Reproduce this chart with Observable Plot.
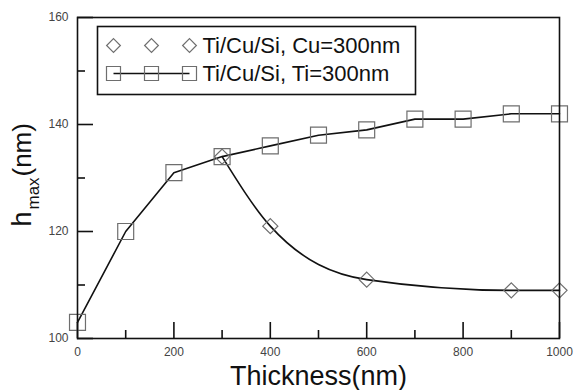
<!DOCTYPE html>
<html>
<head>
<meta charset="utf-8">
<script src="https://cdn.jsdelivr.net/npm/d3@7"></script>
<script src="https://cdn.jsdelivr.net/npm/@observablehq/plot@0.6"></script>
<style>
  body { margin: 0; background: #fff; }
  #chart svg { font-family: "Liberation Sans", Arial, sans-serif; }
</style>
</head>
<body>
<div id="chart"></div>
<script>
// Series: Ti/Cu/Si, Ti=300nm (squares, joined by straight segments)
const tiThickness = [0, 100, 200, 300, 400, 500, 600, 700, 800, 900, 1000];
const tiHmax      = [103, 120, 131, 134, 136, 138, 139, 141, 141, 142, 142];
// Series: Ti/Cu/Si, Cu=300nm (diamonds, smooth curve)
const cuThickness = [300, 400, 600, 900, 1000];
const cuHmax      = [134, 121, 111, 109, 109];
// Axis ticks
const xMajor = [0, 200, 400, 600, 800, 1000];
const xMinor = [100, 300, 500, 700, 900];
const yMajor = [100, 120, 140, 160];
const yMinor = [110, 130, 150];
const legendLabels = ["Ti/Cu/Si, Cu=300nm", "Ti/Cu/Si, Ti=300nm"];
const xTitle = "Thickness(nm)";
const yTitleParts = ["h", "max", "(nm)"];

const ti = tiThickness.map((x, i) => ({x, y: tiHmax[i]}));
const cu = cuThickness.map((x, i) => ({x, y: cuHmax[i]}));

const markerGray = "#6e6e6e";
const ink = "#111";
const noText = () => "";

// legend symbol marks (pixel offsets from the frame's top-left corner)
const legendSymbolX = [36, 74, 112];
const legendMarks = [
  Plot.frame({fill: "#fff", stroke: ink, strokeWidth: 1.6, insetLeft: 20, insetTop: 9, insetRight: 144, insetBottom: 244}),
  Plot.frame({fill: ink, stroke: "none", insetLeft: 36, insetRight: 370, insetTop: 55.25, insetBottom: 264.25}),
  ...legendSymbolX.map(dx => Plot.dot([legendLabels[0]], {frameAnchor: "top-left", dx, dy: 28, symbol: "diamond2", r: 6.2, stroke: markerGray, strokeWidth: 1.2, fill: "none"})),
  ...legendSymbolX.map(dx => Plot.dot([legendLabels[1]], {frameAnchor: "top-left", dx, dy: 56, symbol: "square", r: 7.9, stroke: markerGray, strokeWidth: 1.2, fill: "none"})),
  Plot.text([legendLabels[0]], {text: d => d, frameAnchor: "top-left", dx: 125, dy: 28, textAnchor: "start", lineAnchor: "middle", fontSize: 22, fill: ink}),
  Plot.text([legendLabels[1]], {text: d => d, frameAnchor: "top-left", dx: 125, dy: 56, textAnchor: "start", lineAnchor: "middle", fontSize: 22, fill: ink})
];

const plot = Plot.plot({
  width: 576,
  height: 390,
  marginLeft: 77,
  marginRight: 17,
  marginTop: 17,
  marginBottom: 52,
  style: {fontFamily: "'Liberation Sans', Arial, sans-serif", background: "#fff"},
  x: {domain: [0, 1000]},
  y: {domain: [100, 160]},
  marks: [
    // tick labels
    Plot.axisX({ticks: xMajor, tickSize: 0, tickPadding: 9, fontSize: 12, fill: "#444", label: null, tickFormat: "d"}),
    Plot.axisY({ticks: yMajor, tickSize: 0, tickPadding: 9, fontSize: 12, fill: "#444", label: null, tickFormat: "d"}),
    // inward tick marks
    Plot.axisX({ticks: xMajor, tickSize: -16, tickFormat: noText, label: null, stroke: ink, strokeWidth: 1.6}),
    Plot.axisX({ticks: xMinor, tickSize: -8, tickFormat: noText, label: null, stroke: ink, strokeWidth: 1.6}),
    Plot.axisY({ticks: yMajor, tickSize: -16, tickFormat: noText, label: null, stroke: ink, strokeWidth: 1.6}),
    Plot.axisY({ticks: yMinor, tickSize: -8, tickFormat: noText, label: null, stroke: ink, strokeWidth: 1.6}),
    // data
    Plot.line(ti, {x: "x", y: "y", stroke: ink, strokeWidth: 1.6}),
    Plot.line(cu, {x: "x", y: "y", stroke: ink, strokeWidth: 1.6, curve: "monotone-x"}),
    Plot.dot(ti, {x: "x", y: "y", symbol: "square", r: 9, stroke: markerGray, strokeWidth: 1.2, fill: "none"}),
    Plot.dot(cu, {x: "x", y: "y", symbol: "diamond2", r: 6.8, stroke: markerGray, strokeWidth: 1.2, fill: "none"}),
    Plot.frame({stroke: ink, strokeWidth: 1.6}),
    // axis titles
    Plot.text([xTitle], {text: d => d, frameAnchor: "bottom", dy: 38, lineAnchor: "middle", fontSize: 27, fill: ink}),
    Plot.text([yTitleParts[0]], {text: d => d, frameAnchor: "left", dx: -55, dy: 48.5, rotate: -90, textAnchor: "start", lineAnchor: "middle", fontSize: 27, fill: ink}),
    Plot.text([yTitleParts[1]], {text: d => d, frameAnchor: "left", dx: -44.4, dy: 31.5, rotate: -90, textAnchor: "start", lineAnchor: "middle", fontSize: 17, fill: ink}),
    Plot.text([yTitleParts[2]], {text: d => d, frameAnchor: "left", dx: -55, dy: -1.5, rotate: -90, textAnchor: "start", lineAnchor: "middle", fontSize: 26, fill: ink}),
    // legend
    ...legendMarks
  ]
});
document.getElementById("chart").appendChild(plot);
</script>
</body>
</html>
